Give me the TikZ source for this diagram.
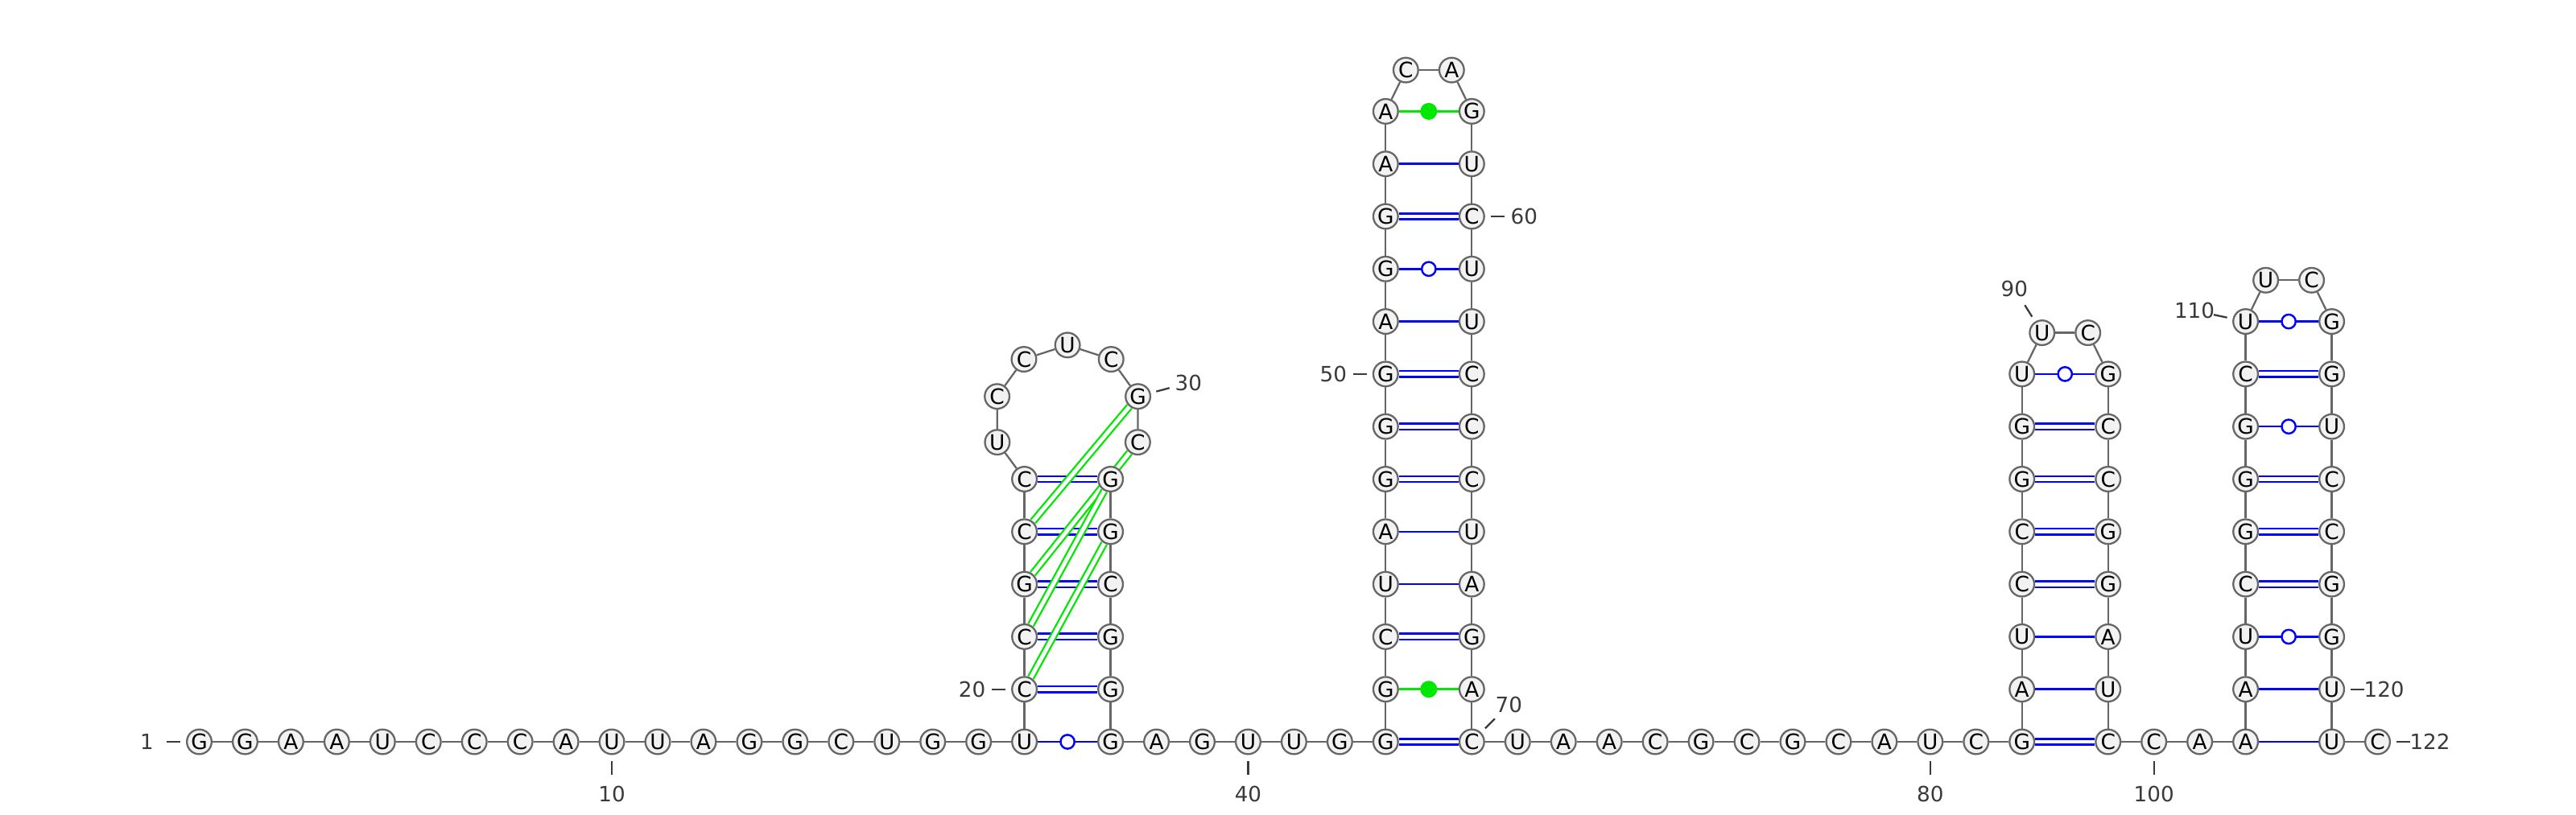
\documentclass[tikz,border=0pt]{standalone}
\usepackage{fontspec}
\setmainfont{DejaVu Sans}
\usepackage{xcolor}
\usepackage{tikz}
\usetikzlibrary{calc,backgrounds}
\definecolor{ring}{HTML}{666666}
\definecolor{shade}{HTML}{F2F2F2}
\definecolor{wcblue}{HTML}{0000FF}
\definecolor{ncgreen}{HTML}{00E800}
\definecolor{numgray}{HTML}{3A3A3A}
\newcommand{\ntstep}{0.5695}
\newcommand{\pairw}{1.07}
\newcommand{\rungh}{0.653}
\tikzset{
  nt/.style={circle, draw=ring, fill=shade, line width=0.65pt, minimum size=3.07mm, inner sep=0pt, font=\fontsize{7.5}{8}\selectfont},
  bb/.style={draw=ring, line width=0.65pt},
  wc/.style={draw=wcblue, line width=0.7pt, double=white, double distance=1.4pt},
  au/.style={draw=wcblue, line width=0.7pt},
  nc/.style={draw=ncgreen, line width=0.7pt},
  tert/.style={draw=ncgreen, line width=0.65pt, double=white, double distance=1.4pt},
  wob/.style={circle, draw=wcblue, fill=white, line width=0.7pt, minimum size=1.73mm, inner sep=0pt},
  ncdot/.style={circle, fill=ncgreen, minimum size=2.1mm, inner sep=0pt},
  num/.style={text=numgray, font=\fontsize{7.45}{8}\selectfont},
  tick/.style={draw=numgray, line width=0.65pt},
}

\begin{document}
\begin{tikzpicture}
  \useasboundingbox (0,0) rectangle (32,10.12);
  \begin{scope}[on background layer]
    \fill[white] (0,0) rectangle (32,10.12);
  \end{scope}
  % positions along the strand
  \foreach \i in {1,...,19} \coordinate (p\i) at ({2.475+(\i-1)*\ntstep},0.9);
  \foreach \i in {20,...,24} \coordinate (p\i) at ($(p19)+(0,{(\i-19)*\rungh})$);
  \coordinate (c1) at ($(p24)+({\pairw/2},0.747)$);
  \foreach \i in {25,...,31} \coordinate (p\i) at ($(c1)+({234.4-36.1*(\i-24)}:0.919)$);
  \foreach \i in {32,...,37} \coordinate (p\i) at ($(p19)+(\pairw,{(37-\i)*\rungh})$);
  \foreach \i in {38,...,43} \coordinate (p\i) at ($(p37)+({(\i-37)*\ntstep},0)$);
  \foreach \i in {44,...,55} \coordinate (p\i) at ($(p43)+(0,{(\i-43)*\rungh})$);
  \coordinate (p56) at ($(p55)+({\pairw/2-\ntstep/2},0.513)$);
  \coordinate (p57) at ($(p55)+({\pairw/2+\ntstep/2},0.513)$);
  \foreach \i in {58,...,70} \coordinate (p\i) at ($(p43)+(\pairw,{(70-\i)*\rungh})$);
  \foreach \i in {71,...,82} \coordinate (p\i) at ($(p70)+({(\i-70)*\ntstep},0)$);
  \foreach \i in {83,...,89} \coordinate (p\i) at ($(p82)+(0,{(\i-82)*\rungh})$);
  \coordinate (p90) at ($(p89)+({\pairw/2-\ntstep/2},0.513)$);
  \coordinate (p91) at ($(p89)+({\pairw/2+\ntstep/2},0.513)$);
  \foreach \i in {92,...,99} \coordinate (p\i) at ($(p82)+(\pairw,{(99-\i)*\rungh})$);
  \foreach \i in {100,...,102} \coordinate (p\i) at ($(p99)+({(\i-99)*\ntstep},0)$);
  \foreach \i in {103,...,110} \coordinate (p\i) at ($(p102)+(0,{(\i-102)*\rungh})$);
  \coordinate (p111) at ($(p110)+({\pairw/2-\ntstep/2},0.513)$);
  \coordinate (p112) at ($(p110)+({\pairw/2+\ntstep/2},0.513)$);
  \foreach \i in {113,...,121} \coordinate (p\i) at ($(p102)+(\pairw,{(121-\i)*\rungh})$);
  \coordinate (p122) at ($(p121)+(\ntstep,0)$);
  % nucleotides
  \foreach \base [count=\i] in {G,G,A,A,U,C,C,C,A,U,U,A,G,G,C,U,G,G,U,C,
                                C,G,C,C,U,C,C,U,C,G,C,G,G,C,G,G,G,A,G,U,
                                U,G,G,G,C,U,A,G,G,G,A,G,G,A,A,C,A,G,U,C,
                                U,U,C,C,C,U,A,G,A,C,U,A,A,C,G,C,G,C,A,U,
                                C,G,A,U,C,C,G,G,U,U,C,G,C,C,G,G,A,U,C,C,
                                A,A,A,U,C,G,G,G,C,U,U,C,G,G,U,C,C,G,G,U,
                                U,C}
    \node[nt] (n\i) at (p\i) {\base};
  \begin{scope}[on background layer]
    \foreach \i [remember=\i as \prev (initially 1)] in {2,...,122}
      \draw[bb] (n\prev) -- (n\i);
    \foreach \ia/\ib in {20/36,21/35,22/34,23/33,24/32,43/70,45/68,48/65,49/64,50/63,53/60,
                         82/99,85/96,86/95,87/94,88/93,105/118,106/117,107/116,109/114}
      \draw[wc] (n\ia) -- (n\ib);
    \foreach \ia/\ib in {46/67,47/66,51/62,54/59,83/98,84/97,102/121,103/120,
                         19/37,52/61,89/92,104/119,108/115,110/113}
      \draw[au] (n\ia) -- (n\ib);
    \foreach \ia/\ib in {44/69,55/58}
      \draw[nc] (n\ia) -- (n\ib);
    \foreach \ia/\ib in {23/30,22/31,21/32,20/33}
      \draw[tert] (n\ia) -- (n\ib);
  \end{scope}
  \foreach \ia/\ib in {19/37,52/61,89/92,104/119,108/115,110/113}
    \node[wob] (wob\ia) at ($(n\ia)!0.5!(n\ib)$) {};
  \foreach \ia/\ib in {44/69,55/58}
    \node[ncdot] (dot\ia) at ($(n\ia)!0.5!(n\ib)$) {};
  % numbering
  \foreach \k/\ang in {1/180,10/-90,20/180,30/15,40/-90,50/180,60/0,70/45,
                       80/-90,90/122,100/-90,110/168,120/0,122/0} {
    \draw[tick] ($(n\k)+(\ang:0.235)$) -- ($(n\k)+(\ang:0.405)$);
    \node[num] (lab\k) at ($(n\k)+(\ang:0.65)$) {\k};
  }
\end{tikzpicture}
\end{document}
